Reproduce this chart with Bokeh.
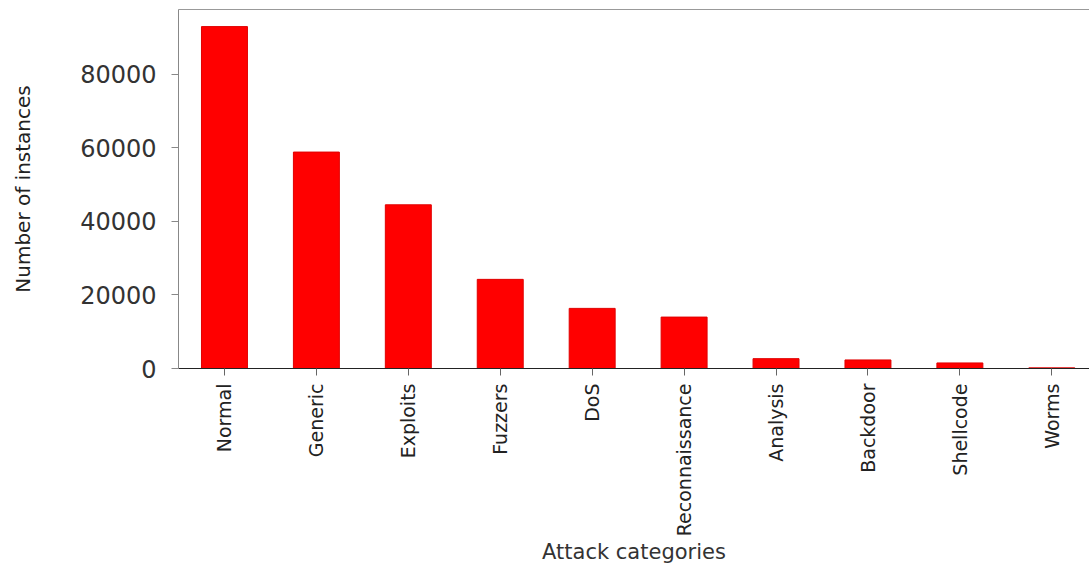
from bokeh.plotting import figure
from bokeh.models import Range1d, FixedTicker, LinearAxis
from bokeh.embed import file_html
from bokeh.resources import INLINE

categories = ["Normal", "Generic", "Exploits", "Fuzzers", "DoS",
              "Reconnaissance", "Analysis", "Backdoor", "Shellcode", "Worms"]
counts = [93000, 58871, 44525, 24246, 16353, 13987, 2677, 2329, 1511, 174]
y_ticks = [0, 20000, 40000, 60000, 80000]

xs = list(range(len(categories)))
FONT = "DejaVu Sans"

p = figure(width=1089, height=567, output_backend="svg", toolbar_location=None,
           x_range=Range1d(-0.5, 9.41), y_range=Range1d(0, max(counts) * 1.05),
           min_border_left=178, min_border_right=0, min_border_top=9,
           min_border_bottom=199)
p.outline_line_color = None
p.xgrid.visible = False
p.ygrid.visible = False
p.background_fill_color = "white"
p.border_fill_color = "white"

p.vbar(x=xs, top=counts, width=0.5, fill_color="#ff0000", line_color="#e00000",
       line_width=1)

# x axis
xa = p.xaxis[0]
xa.ticker = FixedTicker(ticks=xs)
xa.major_label_overrides = {i: c for i, c in enumerate(categories)}
xa.major_label_orientation = 1.5707963
xa.major_label_text_font = FONT
xa.major_label_text_font_size = "19px"
xa.major_label_text_color = "#222222"
xa.major_label_standoff = 8
xa.major_tick_out = 7
xa.major_tick_in = 0
xa.minor_tick_out = 0
xa.minor_tick_in = 0
xa.axis_line_color = "#222222"
xa.major_tick_line_color = "#666666"
xa.axis_label = "Attack categories"
xa.axis_label_text_font = FONT
xa.axis_label_text_font_style = "normal"
xa.axis_label_text_font_size = "21px"
xa.axis_label_text_color = "#333333"
xa.axis_label_standoff = 1

# y axis
ya = p.yaxis[0]
ya.ticker = FixedTicker(ticks=y_ticks)
ya.major_label_text_font = FONT
ya.major_label_text_font_size = "24px"
ya.major_label_text_color = "#333333"
ya.major_label_standoff = 15
ya.major_tick_out = 7
ya.major_tick_in = 0
ya.minor_tick_out = 0
ya.minor_tick_in = 0
ya.axis_line_color = "#888888"
ya.major_tick_line_color = "#888888"
ya.axis_label = "Number of instances"
ya.axis_label_text_font = FONT
ya.axis_label_text_font_style = "normal"
ya.axis_label_text_font_size = "20px"
ya.axis_label_text_color = "#222222"
ya.axis_label_standoff = 42

# top spine
top = LinearAxis(ticker=FixedTicker(ticks=[]), major_label_text_font_size="0px",
                 major_tick_out=0, major_tick_in=0, minor_tick_out=0, minor_tick_in=0,
                 axis_line_color="#999999")
p.add_layout(top, "above")

open("out.html", "w").write(file_html(p, INLINE))
